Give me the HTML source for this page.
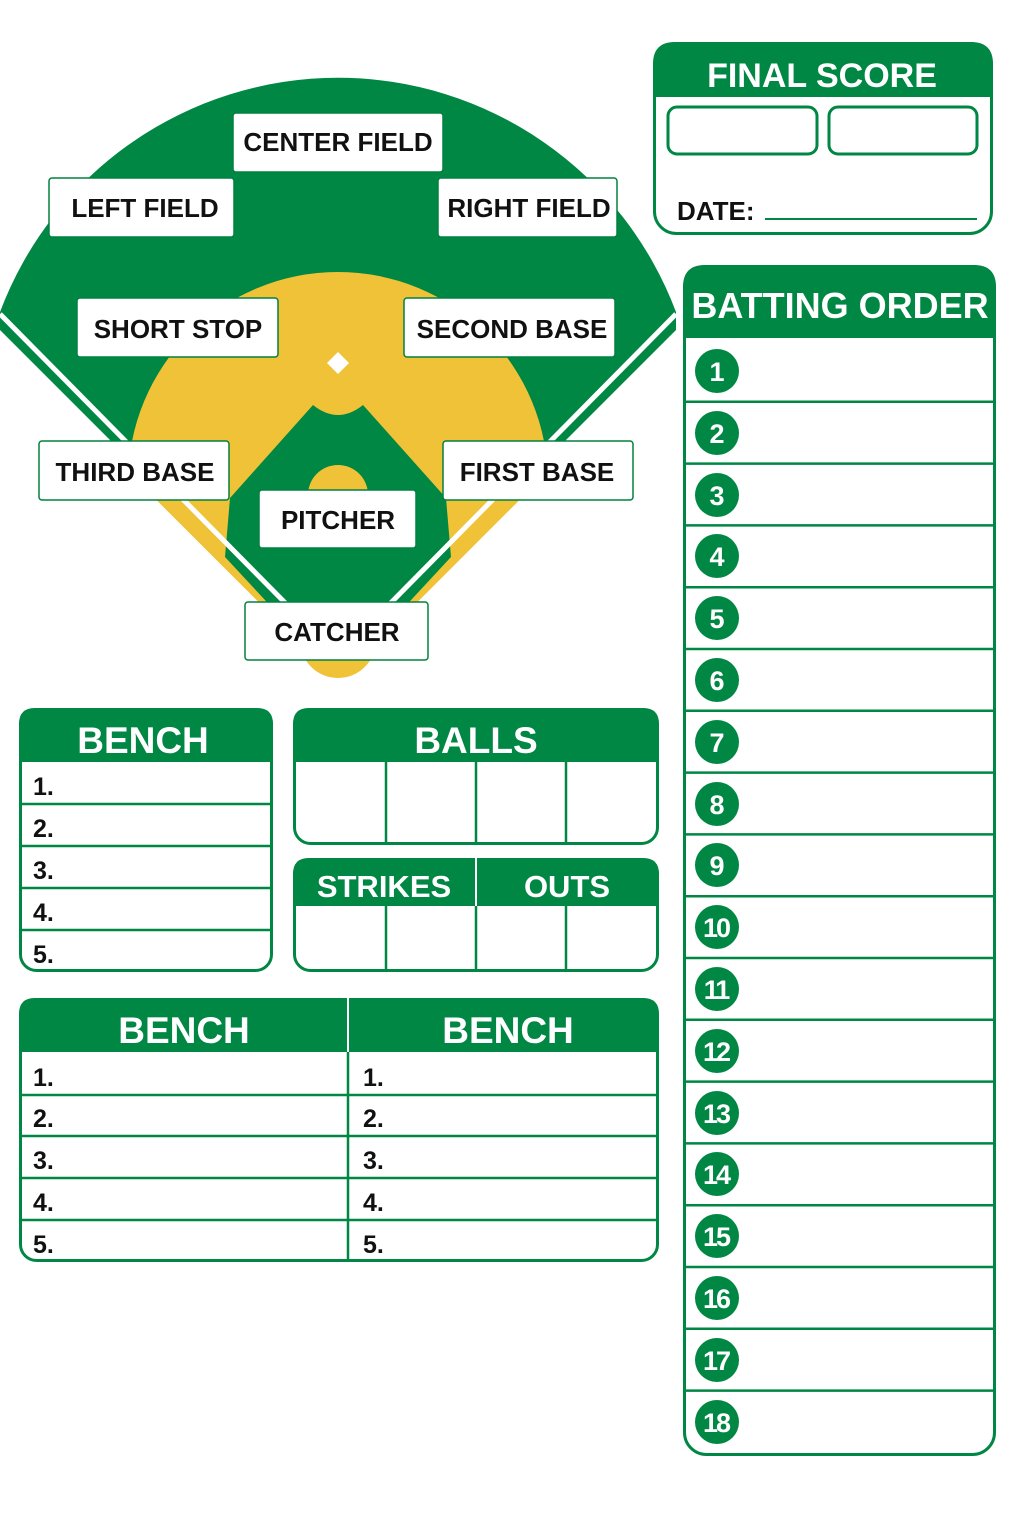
<!DOCTYPE html>
<html><head><meta charset="utf-8"><style>
html,body{margin:0;padding:0;background:#fff;}
svg{display:block;}
text{font-family:"Liberation Sans",sans-serif;font-weight:bold;}
</style></head><body>
<svg width="1024" height="1536" viewBox="0 0 1024 1536" xmlns="http://www.w3.org/2000/svg">
<defs>
<clipPath id="dirtclip"><polygon points="338,668 0,330 0,0 680,0 680,330"/></clipPath>
</defs>
<!-- field -->
<path d="M338,668 L0,330 L0,312 A361,361 0 0 1 676,312 L676,330 Z" fill="#008744"/>
<!-- yellow strips along foul lines -->
<line x1="160" y1="488" x2="338" y2="666" stroke="#F0C237" stroke-width="22"/>
<line x1="516" y1="488" x2="338" y2="666" stroke="#F0C237" stroke-width="22"/>
<circle cx="338" cy="482" r="210" fill="#F0C237" clip-path="url(#dirtclip)"/>
<!-- grass infield -->
<path d="M313,405 Q338,425 363,405 L446,498 L451,557 L372,642 L304,642 L225,557 L230,498 Z" fill="#008744"/>
<circle cx="338" cy="495" r="30" fill="#F0C237"/>
<circle cx="338" cy="640" r="38" fill="#F0C237"/>
<polygon points="338,352 349,363 338,374 327,363" fill="#fff"/>
<!-- foul lines -->
<line x1="0" y1="314" x2="310" y2="628" stroke="#fff" stroke-width="5"/>
<line x1="676" y1="314" x2="366" y2="628" stroke="#fff" stroke-width="5"/>
<!-- labels -->
<g fill="#fff" stroke="#00813f" stroke-width="1.5">
<rect x="233" y="113" width="210" height="59" rx="3"/>
<rect x="49" y="178" width="185" height="59" rx="3"/>
<rect x="438" y="178" width="179" height="59" rx="3"/>
<rect x="77" y="298" width="201" height="59" rx="3"/>
<rect x="404" y="298" width="211" height="59" rx="3"/>
<rect x="39" y="441" width="190" height="59" rx="3"/>
<rect x="443" y="441" width="190" height="59" rx="3"/>
<rect x="259" y="490" width="157" height="58" rx="3"/>
<rect x="245" y="602" width="183" height="58" rx="3"/>
</g>
<g fill="#111" font-size="26" text-anchor="middle">
<text x="338" y="151">CENTER FIELD</text>
<text x="145" y="217">LEFT FIELD</text>
<text x="529" y="217">RIGHT FIELD</text>
<text x="178" y="338">SHORT STOP</text>
<text x="512" y="338">SECOND BASE</text>
<text x="135" y="481">THIRD BASE</text>
<text x="537" y="481">FIRST BASE</text>
<text x="338" y="529">PITCHER</text>
<text x="337" y="641">CATCHER</text>
</g>

<!-- final score -->
<path d="M653,97 L653,64 Q653,42 675,42 L971,42 Q993,42 993,64 L993,97 Z" fill="#008744"/>
<rect x="654.5" y="43.5" width="337" height="190" rx="22" fill="none" stroke="#008744" stroke-width="3"/>
<text x="822" y="87" fill="#fff" font-size="34" text-anchor="middle">FINAL SCORE</text>
<rect x="668" y="107" width="149" height="47" rx="9" fill="none" stroke="#008744" stroke-width="3"/>
<rect x="829" y="107" width="148" height="47" rx="9" fill="none" stroke="#008744" stroke-width="3"/>
<text x="677" y="220" fill="#111" font-size="26">DATE:</text>
<line x1="765" y1="219" x2="977" y2="219" stroke="#008744" stroke-width="2"/>

<!-- batting order -->
<path d="M683,338 L683,287 Q683,265 705,265 L974,265 Q996,265 996,287 L996,338 Z" fill="#008744"/>
<rect x="684.5" y="266.5" width="310" height="1188" rx="22" fill="none" stroke="#008744" stroke-width="3"/>
<text x="840" y="318" fill="#fff" font-size="36" text-anchor="middle">BATTING ORDER</text>
<g stroke="#008744" stroke-width="2.5">
<line x1="684" y1="401.8" x2="995" y2="401.8"/>
<line x1="684" y1="463.6" x2="995" y2="463.6"/>
<line x1="684" y1="525.4" x2="995" y2="525.4"/>
<line x1="684" y1="587.2" x2="995" y2="587.2"/>
<line x1="684" y1="649" x2="995" y2="649"/>
<line x1="684" y1="710.8" x2="995" y2="710.8"/>
<line x1="684" y1="772.6" x2="995" y2="772.6"/>
<line x1="684" y1="834.4" x2="995" y2="834.4"/>
<line x1="684" y1="896.2" x2="995" y2="896.2"/>
<line x1="684" y1="958" x2="995" y2="958"/>
<line x1="684" y1="1019.8" x2="995" y2="1019.8"/>
<line x1="684" y1="1081.6" x2="995" y2="1081.6"/>
<line x1="684" y1="1143.4" x2="995" y2="1143.4"/>
<line x1="684" y1="1205.2" x2="995" y2="1205.2"/>
<line x1="684" y1="1267" x2="995" y2="1267"/>
<line x1="684" y1="1328.8" x2="995" y2="1328.8"/>
<line x1="684" y1="1390.6" x2="995" y2="1390.6"/>
</g>
<g fill="#008744">
<circle cx="717" cy="371" r="22"/><circle cx="717" cy="433" r="22"/><circle cx="717" cy="495" r="22"/>
<circle cx="717" cy="556" r="22"/><circle cx="717" cy="618" r="22"/><circle cx="717" cy="680" r="22"/>
<circle cx="717" cy="742" r="22"/><circle cx="717" cy="804" r="22"/><circle cx="717" cy="865" r="22"/>
<circle cx="717" cy="927" r="22"/><circle cx="717" cy="989" r="22"/><circle cx="717" cy="1051" r="22"/>
<circle cx="717" cy="1113" r="22"/><circle cx="717" cy="1174" r="22"/><circle cx="717" cy="1236" r="22"/>
<circle cx="717" cy="1298" r="22"/><circle cx="717" cy="1360" r="22"/><circle cx="717" cy="1422" r="22"/>
</g>
<g fill="#fff" font-size="27" text-anchor="middle">
<text x="717" y="381">1</text><text x="717" y="443">2</text><text x="717" y="505">3</text>
<text x="717" y="566">4</text><text x="717" y="628">5</text><text x="717" y="690">6</text>
<text x="717" y="752">7</text><text x="717" y="814">8</text><text x="717" y="875">9</text>
<g letter-spacing="-2">
<text x="716" y="937">10</text><text x="716" y="999">11</text><text x="716" y="1061">12</text>
<text x="716" y="1123">13</text><text x="716" y="1184">14</text><text x="716" y="1246">15</text>
<text x="716" y="1308">16</text><text x="716" y="1370">17</text><text x="716" y="1432">18</text>
</g>
</g>

<!-- bench left -->
<path d="M19,762 L19,724 Q19,708 35,708 L257,708 Q273,708 273,724 L273,762 Z" fill="#008744"/>
<rect x="20.5" y="709.5" width="251" height="261" rx="16" fill="none" stroke="#008744" stroke-width="3"/>
<text x="143" y="753" fill="#fff" font-size="37" text-anchor="middle">BENCH</text>
<g stroke="#008744" stroke-width="2.5">
<line x1="20" y1="804" x2="272" y2="804"/><line x1="20" y1="846" x2="272" y2="846"/>
<line x1="20" y1="888" x2="272" y2="888"/><line x1="20" y1="930" x2="272" y2="930"/>
</g>
<g fill="#111" font-size="25" font-weight="normal">
<text x="33" y="795">1.</text><text x="33" y="837">2.</text><text x="33" y="879">3.</text>
<text x="33" y="921">4.</text><text x="33" y="963">5.</text>
</g>

<!-- balls -->
<path d="M293,762 L293,724 Q293,708 309,708 L643,708 Q659,708 659,724 L659,762 Z" fill="#008744"/>
<rect x="294.5" y="709.5" width="363" height="134" rx="16" fill="none" stroke="#008744" stroke-width="3"/>
<text x="476" y="753" fill="#fff" font-size="37" text-anchor="middle">BALLS</text>
<g stroke="#008744" stroke-width="2.5">
<line x1="386" y1="762" x2="386" y2="844"/><line x1="476" y1="762" x2="476" y2="844"/><line x1="566" y1="762" x2="566" y2="844"/>
</g>

<!-- strikes/outs -->
<path d="M293,906 L293,874 Q293,858 309,858 L643,858 Q659,858 659,874 L659,906 Z" fill="#008744"/>
<rect x="294.5" y="859.5" width="363" height="111" rx="16" fill="none" stroke="#008744" stroke-width="3"/>
<line x1="476" y1="858" x2="476" y2="971" stroke="#fff" stroke-width="2"/>
<text x="384" y="897" fill="#fff" font-size="31" text-anchor="middle">STRIKES</text>
<text x="567" y="897" fill="#fff" font-size="31" text-anchor="middle">OUTS</text>
<g stroke="#008744" stroke-width="2.5">
<line x1="386" y1="906" x2="386" y2="971"/><line x1="476" y1="906" x2="476" y2="971"/><line x1="566" y1="906" x2="566" y2="971"/>
</g>

<!-- bench double -->
<path d="M19,1052 L19,1014 Q19,998 35,998 L643,998 Q659,998 659,1014 L659,1052 Z" fill="#008744"/>
<rect x="20.5" y="999.5" width="637" height="261" rx="16" fill="none" stroke="#008744" stroke-width="3"/>
<line x1="348" y1="998" x2="348" y2="1052" stroke="#fff" stroke-width="2"/>
<text x="184" y="1043" fill="#fff" font-size="37" text-anchor="middle">BENCH</text>
<text x="508" y="1043" fill="#fff" font-size="37" text-anchor="middle">BENCH</text>
<g stroke="#008744" stroke-width="2.5">
<line x1="348" y1="1052" x2="348" y2="1261"/>
<line x1="20" y1="1095" x2="658" y2="1095"/><line x1="20" y1="1136" x2="658" y2="1136"/>
<line x1="20" y1="1178" x2="658" y2="1178"/><line x1="20" y1="1220" x2="658" y2="1220"/>
</g>
<g fill="#111" font-size="25" font-weight="normal">
<text x="33" y="1086">1.</text><text x="33" y="1127">2.</text><text x="33" y="1169">3.</text>
<text x="33" y="1211">4.</text><text x="33" y="1253">5.</text>
<text x="363" y="1086">1.</text><text x="363" y="1127">2.</text><text x="363" y="1169">3.</text>
<text x="363" y="1211">4.</text><text x="363" y="1253">5.</text>
</g>
</svg>
</body></html>
